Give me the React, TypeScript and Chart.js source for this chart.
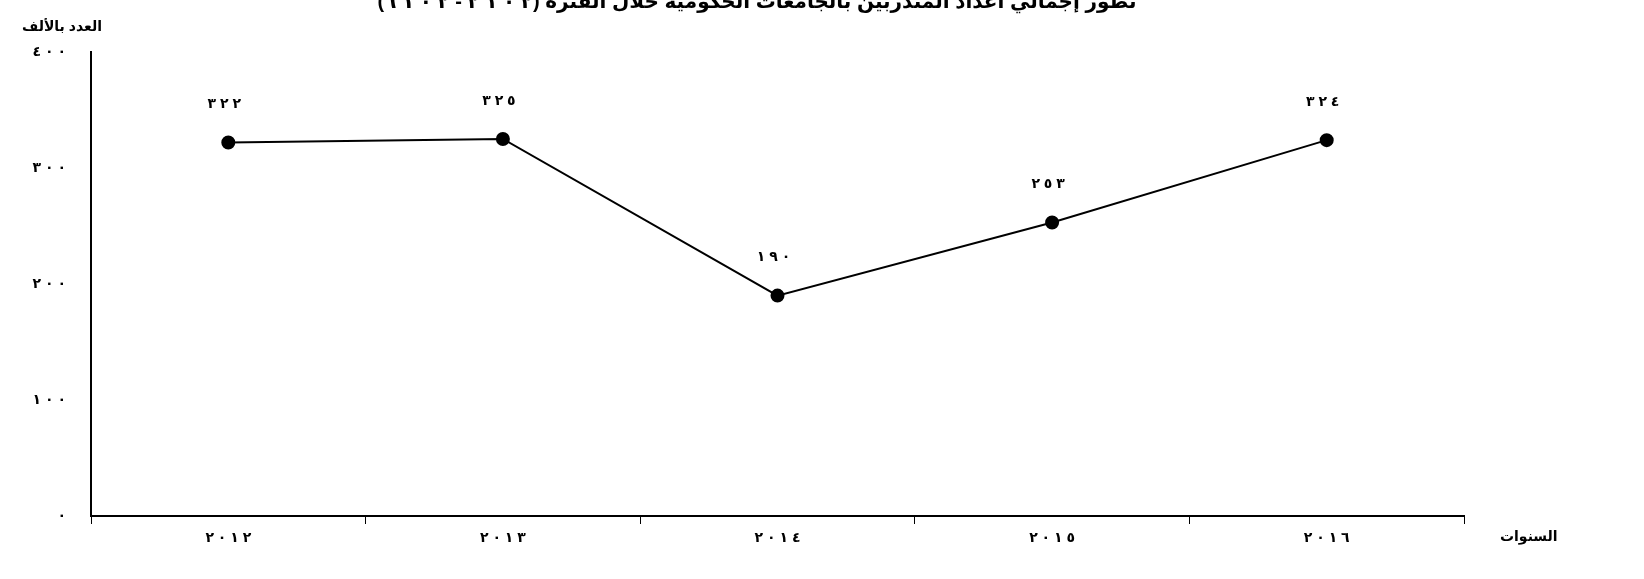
import React, { useEffect, useRef } from "react";
import { Chart, registerables } from "chart.js";

Chart.register(...registerables);

const years = ["2012", "2013", "2014", "2015", "2016"];
const trainees = [322, 325, 190, 253, 324];
const yTicks = [0, 100, 200, 300, 400];
const chartTitle = "تطور إجمالي أعداد المتدربين بالجامعات الحكومية خلال الفترة (٢ ٠ ١ ٢ - ٢ ٠ ١ ٦)";
const yTitle = "العدد بالألف";
const xTitle = "السنوات";

const FONT = "Arial, 'DejaVu Sans', sans-serif";
const LRM = "\u200E";
const toArabic = (v: string | number) =>
  String(v)
    .replace(/[0-9]/g, (d) => "٠١٢٣٤٥٦٧٨٩"[Number(d)])
    .split("")
    .join(LRM + " " + LRM);

const textPlugin = {
  id: "textPlugin",
  afterDraw(chart: any) {
    const ctx = chart.ctx;
    const area = chart.chartArea;
    ctx.save();
    ctx.fillStyle = "#000";
    // title
    ctx.font = `bold 20px ${FONT}`;
    ctx.direction = "rtl";
    ctx.textAlign = "center";
    ctx.textBaseline = "alphabetic";
    ctx.fillText(chartTitle, 757, 8);
    ctx.direction = "ltr";
    // y title
    ctx.font = `bold 14px ${FONT}`;
    ctx.textAlign = "center";
    ctx.textBaseline = "middle";
    ctx.fillText(yTitle, 62, 27);
    // x title
    ctx.textAlign = "left";
    ctx.fillText(xTitle, area.right + 36, area.bottom + 21);
    // data labels
    const meta = chart.getDatasetMeta(0);
    ctx.font = `bold 14px ${FONT}`;
    ctx.textAlign = "center";
    meta.data.forEach((pt: any, i: number) => {
      ctx.fillText(toArabic(trainees[i]), pt.x - 4, pt.y - 38);
    });
    ctx.restore();
  },
};

export default function App() {
  const ref = useRef<HTMLCanvasElement>(null);
  useEffect(() => {
    if (!ref.current) return;
    const chart = new Chart(ref.current, {
      type: "line",
      data: {
        labels: years,
        datasets: [
          {
            data: trainees,
            borderColor: "#000",
            backgroundColor: "#000",
            borderWidth: 2,
            pointRadius: 6,
            pointBackgroundColor: "#000",
            pointBorderColor: "#000",
            tension: 0,
          },
        ],
      },
      options: {
        responsive: false,
        animation: false,
        devicePixelRatio: 1,
        layout: { padding: { top: 52, right: 180, left: 0, bottom: 0 } },
        plugins: { legend: { display: false }, tooltip: { enabled: false } },
        scales: {
          x: {
            type: "category",
            offset: true,
            border: { color: "#000", width: 2 },
            grid: {
              offset: true,
              drawOnChartArea: false,
              drawTicks: true,
              tickLength: 8,
              color: "#000",
              lineWidth: 1,
            },
            ticks: {
              color: "#000",
              padding: 6,
              font: { family: FONT, size: 14, weight: "bold" },
              maxRotation: 0,
              callback: (_v: any, i: number) => toArabic(years[i]),
            },
            afterFit: (s: any) => {
              s.height = 63;
            },
          },
          y: {
            min: 0,
            max: 400,
            border: { color: "#000", width: 2 },
            grid: { display: false, drawTicks: false },
            afterBuildTicks: (s: any) => {
              s.ticks = yTicks.map((v) => ({ value: v }));
            },
            ticks: {
              color: "#000",
              padding: 25,
              font: { family: FONT, size: 14, weight: "bold" },
              callback: (v: any) => toArabic(v),
            },
            afterFit: (s: any) => {
              s.width = 91;
            },
          },
        },
      },
      plugins: [textPlugin],
    } as any);
    return () => chart.destroy();
  }, []);
  return (
    <div style={{ position: "absolute", left: 0, top: 0, width: 1644, height: 579, background: "#fff" }}>
      <canvas ref={ref} width={1644} height={579} style={{ width: 1644, height: 579, display: "block" }} />
    </div>
  );
}
